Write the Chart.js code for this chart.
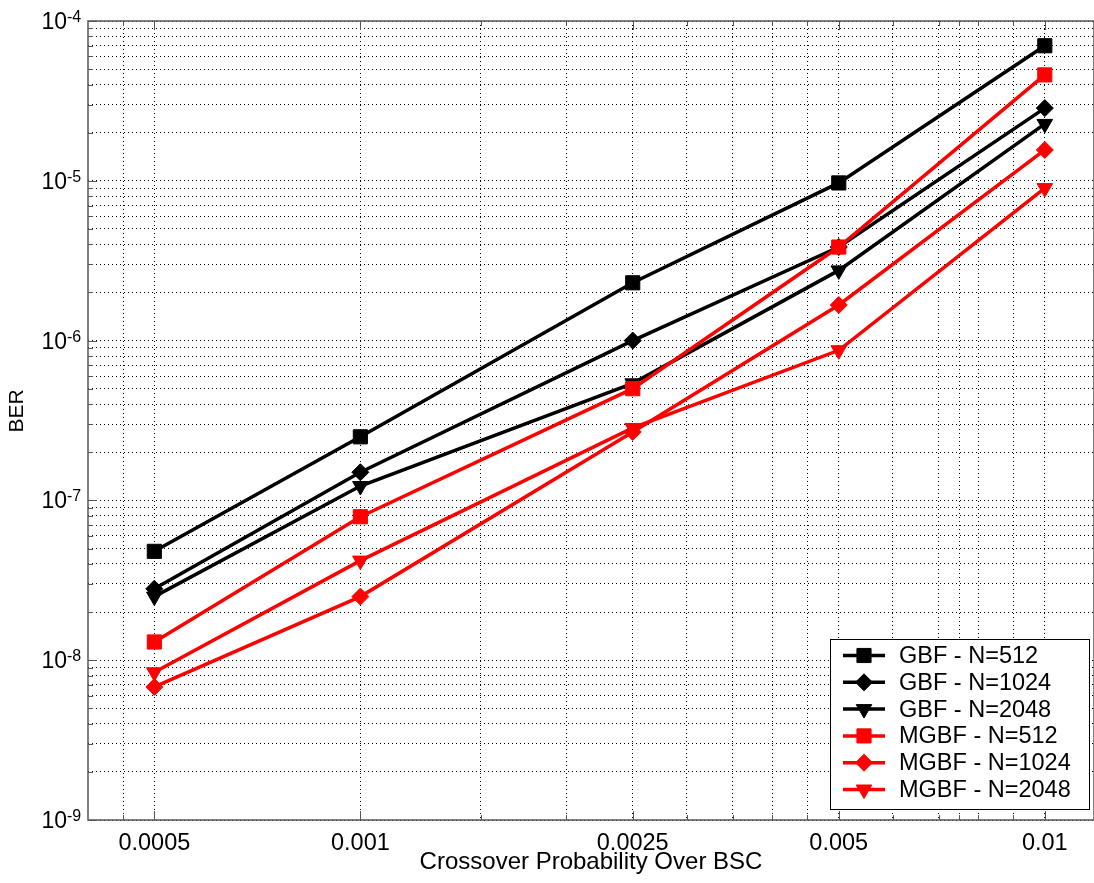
<!DOCTYPE html>
<html>
<head>
<meta charset="utf-8">
<title>BER vs crossover probability</title>
<script src="https://cdn.jsdelivr.net/npm/chart.js@4.4.1/dist/chart.umd.min.js"></script>
<style>
  html, body { margin: 0; padding: 0; background: #fff; }
  #wrap { width: 1094px; height: 883px; }
</style>
</head>
<body>
<div id="wrap"><canvas id="berChart" width="1094" height="883"></canvas></div>
<script>
// crossover probability on the BSC (x axis)
const crossover = [0.0005, 0.001, 0.0025, 0.005, 0.01];

// BER, one array per curve
const gbf512   = [4.8e-8, 2.5e-7, 2.3e-6, 9.7e-6, 7.0e-5];
const gbf1024  = [2.8e-8, 1.5e-7, 1.0e-6, 3.85e-6, 2.85e-5];
const gbf2048  = [2.5e-8, 1.23e-7, 5.4e-7, 2.75e-6, 2.27e-5];
const mgbf512  = [1.3e-8, 7.9e-8, 5.0e-7, 3.85e-6, 4.6e-5];
const mgbf1024 = [6.8e-9, 2.5e-8, 2.68e-7, 1.67e-6, 1.56e-5];
const mgbf2048 = [8.4e-9, 4.2e-8, 2.84e-7, 8.7e-7, 9.0e-6];

const seriesNames = ['GBF - N=512', 'GBF - N=1024', 'GBF - N=2048',
                     'MGBF - N=512', 'MGBF - N=1024', 'MGBF - N=2048'];
const seriesData = [gbf512, gbf1024, gbf2048, mgbf512, mgbf1024, mgbf2048];

// axis ticks
const xGridTicks = [0.00045, 0.0005, 0.001, 0.0015, 0.002, 0.0025, 0.003, 0.0035,
                    0.004, 0.0045, 0.005, 0.006, 0.007, 0.0075, 0.008, 0.009, 0.01];
const xLabelTicks = [0.0005, 0.001, 0.0025, 0.005, 0.01];
const yExponents = [-9, -8, -7, -6, -5, -4];

const FONT = "'Liberation Sans', Arial, Helvetica, sans-serif";
const black = '#000000';
const red = '#ff0000';

const styles = [
  { color: black, pointStyle: 'rect', radius: 10, rotation: 0 },
  { color: black, pointStyle: 'rectRot', radius: 8.5, rotation: 0 },
  { color: black, pointStyle: 'triangle', radius: 9, rotation: 180 },
  { color: red, pointStyle: 'rect', radius: 10, rotation: 0 },
  { color: red, pointStyle: 'rectRot', radius: 8.5, rotation: 0 },
  { color: red, pointStyle: 'triangle', radius: 9, rotation: 180 }
];

// y grid: 1..9 x 10^e
let yGridTicks = [];
for (let e = yExponents[0]; e < yExponents[yExponents.length - 1]; e++) {
  for (let m = 1; m <= 9; m++) yGridTicks.push(m * Math.pow(10, e));
}
yGridTicks.push(Math.pow(10, yExponents[yExponents.length - 1]));

let datasets = [];
for (let i = 0; i < seriesData.length; i++) {
  const s = styles[i];
  datasets.push({
    label: seriesNames[i],
    data: crossover.map((c, j) => ({ x: c, y: seriesData[i][j] })),
    borderColor: s.color,
    backgroundColor: s.color,
    borderWidth: 3.5,
    tension: 0,
    pointStyle: s.pointStyle,
    pointRadius: s.radius,
    pointRotation: s.rotation,
    pointBackgroundColor: s.color,
    pointBorderColor: s.color,
    pointBorderWidth: 1,
    order: seriesData.length - i   // later curves on top, like MATLAB
  });
}

function isPow10(v) {
  const l = Math.log10(v);
  return Math.abs(l - Math.round(l)) < 1e-9;
}

// frame, inward ticks, superscript y labels, BER title and legend
const matlabFrame = {
  id: 'matlabFrame',
  afterDraw(chart) {
    const { ctx, chartArea: a, scales: { x, y } } = chart;
    ctx.save();

    ctx.strokeStyle = '#555';
    ctx.lineWidth = 1;
    ctx.beginPath();
    x.ticks.forEach(t => {
      const px = Math.round(x.getPixelForValue(t.value)) + 0.5;
      const len = xLabelTicks.includes(t.value) ? 9 : 5;
      ctx.moveTo(px, a.bottom); ctx.lineTo(px, a.bottom - len);
      ctx.moveTo(px, a.top); ctx.lineTo(px, a.top + len);
    });
    y.ticks.forEach(t => {
      const py = Math.round(y.getPixelForValue(t.value)) + 0.5;
      const len = isPow10(t.value) ? 9 : 5;
      ctx.moveTo(a.left, py); ctx.lineTo(a.left + len, py);
    });
    ctx.stroke();

    ctx.lineWidth = 1.5;
    ctx.strokeRect(a.left, a.top, a.right - a.left, a.bottom - a.top);

    // y tick labels 10^e
    ctx.fillStyle = '#000';
    yExponents.forEach(e => {
      const py = y.getPixelForValue(Math.pow(10, e));
      ctx.font = '23px ' + FONT;
      ctx.textAlign = 'right';
      ctx.textBaseline = 'alphabetic';
      ctx.fillText('10', 67, py + 8);
      ctx.font = '16px ' + FONT;
      ctx.textAlign = 'left';
      ctx.fillText('-' + Math.abs(e), 67, py + 1);
    });

    // y title
    ctx.save();
    ctx.translate(17, 411);
    ctx.rotate(-Math.PI / 2);
    ctx.font = '21px ' + FONT;
    ctx.textAlign = 'center';
    ctx.textBaseline = 'middle';
    ctx.fillText('BER', 0, 0);
    ctx.restore();

    // legend box
    const lx = 830, ly = 639, lw = 259, lh = 170;
    ctx.fillStyle = '#fff';
    ctx.fillRect(lx, ly, lw, lh);
    ctx.strokeStyle = '#000';
    ctx.lineWidth = 1;
    ctx.strokeRect(lx + 0.5, ly + 0.5, lw, lh);
    const rowStep = 26.8;
    chart.data.datasets.forEach((ds, i) => {
      const ry = ly + 16.5 + i * rowStep;
      ctx.strokeStyle = ds.borderColor;
      ctx.fillStyle = ds.borderColor;
      ctx.lineWidth = 3.5;
      ctx.beginPath();
      ctx.moveTo(843, ry); ctx.lineTo(885, ry);
      ctx.stroke();
      ctx.lineWidth = 1;
      Chart.helpers.drawPoint(ctx, {
        pointStyle: ds.pointStyle, rotation: ds.pointRotation,
        radius: ds.pointRadius, borderWidth: 1
      }, 864, ry);
      ctx.fillStyle = '#000';
      ctx.font = '23.5px ' + FONT;
      ctx.textAlign = 'left';
      ctx.textBaseline = 'middle';
      ctx.fillText(ds.label, 899, ry + 1);
    });

    ctx.restore();
  }
};

const ctx = document.getElementById('berChart');
new Chart(ctx, {
  type: 'line',
  data: { datasets: datasets },
  options: {
    responsive: false,
    devicePixelRatio: 1,
    animation: false,
    layout: { autoPadding: false, padding: { top: 21, right: 0, left: 0, bottom: 0 } },
    plugins: { legend: { display: false }, tooltip: { enabled: false } },
    scales: {
      x: {
        type: 'logarithmic',
        min: 0.0004,
        max: 0.0118,
        afterBuildTicks: scale => { scale.ticks = xGridTicks.map(v => ({ value: v })); },
        afterFit: scale => {
          scale.height = 63;
          scale.paddingLeft = 0;
          scale.paddingRight = 0;
        },
        grid: { color: '#000', lineWidth: 1, drawTicks: false },
        border: { display: false, dash: [1, 3] },
        ticks: {
          autoSkip: false,
          maxRotation: 0,
          padding: 9,
          color: '#000',
          font: { family: FONT, size: 23.5 },
          callback: v => xLabelTicks.includes(v) ? String(v) : ''
        },
        title: {
          display: true,
          text: 'Crossover Probability Over BSC',
          color: '#000',
          font: { family: FONT, size: 24 },
          padding: { top: 0, bottom: 6 }
        }
      },
      y: {
        type: 'logarithmic',
        min: 1e-9,
        max: 1e-4,
        afterBuildTicks: scale => { scale.ticks = yGridTicks.map(v => ({ value: v })); },
        afterFit: scale => {
          scale.width = 88;
          scale.paddingTop = 0;
          scale.paddingBottom = 0;
        },
        grid: { color: '#000', lineWidth: 1, drawTicks: false },
        border: { display: false, dash: [1, 3] },
        ticks: { display: false, autoSkip: false }
      }
    }
  },
  plugins: [matlabFrame]
});
</script>
</body>
</html>
